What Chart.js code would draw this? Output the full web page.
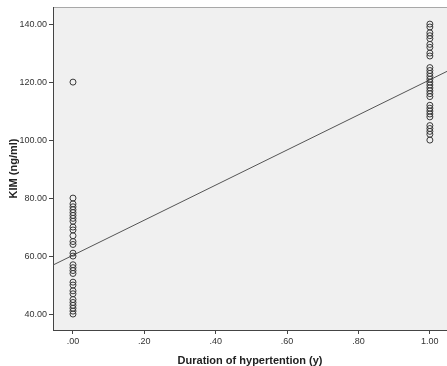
<!DOCTYPE html>
<html>
<head>
<meta charset="utf-8">
<script src="https://cdn.jsdelivr.net/npm/chart.js@4/dist/chart.umd.min.js"></script>
<style>
  html, body { margin: 0; padding: 0; background: #fff; }
  #wrap { width: 447px; height: 366px; }
</style>
</head>
<body>
<div id="wrap"><canvas id="kimChart" width="447" height="366"></canvas></div>
<script>
// KIM values for the two groups (x = 0 and x = 1)
const groupNo = [80, 78, 77, 76, 75, 74, 73, 72, 70, 69, 67, 65, 64, 61, 60, 57, 56, 55, 54,
                 51, 50, 48, 47, 45, 44, 43, 42, 41, 40, 120];
const groupYes = [140, 139, 137, 136, 135, 133, 132, 130, 129, 125, 124, 123, 122, 121, 120,
                  119, 118, 117, 116, 115, 112, 111, 110, 109, 108, 105, 104, 103, 102, 100];

// fit line (ends at the plot edges)
const fitX = [-0.056, 1.048];
const fitY = [56.9, 123.7];

const xTicks = [0, 0.2, 0.4, 0.6, 0.8, 1.0];
const yTicks = [40, 60, 80, 100, 120, 140];

const points = [];
groupNo.forEach(v => points.push({ x: 0, y: v }));
groupYes.forEach(v => points.push({ x: 1, y: v }));

const plotBg = {
    id: "plotBg",
    beforeDraw(chart) {
        const { ctx, chartArea: a } = chart;
        ctx.save();
        ctx.fillStyle = "#f0f0f0";
        ctx.fillRect(a.left, a.top, a.right - a.left, a.bottom - a.top);
        ctx.strokeStyle = "#a8a8a8";
        ctx.lineWidth = 1;
        ctx.beginPath();
        ctx.moveTo(a.left, a.top + 0.5);
        ctx.lineTo(a.right, a.top + 0.5);
        ctx.stroke();
        ctx.restore();
    }
};

const tickFont = { family: "Liberation Sans", size: 9 };
const titleFont = { family: "Liberation Sans", size: 11, weight: "bold", lineHeight: 1 };

new Chart(document.getElementById("kimChart"), {
    type: "scatter",
    data: {
        datasets: [{
            data: points,
            pointStyle: "circle",
            pointRadius: 3,
            pointBorderWidth: 1,
            borderColor: "#3a3a3a",
            backgroundColor: "rgba(0,0,0,0)",
            order: 1
        }, {
            type: "line",
            data: fitX.map((x, i) => ({ x: x, y: fitY[i] })),
            borderColor: "#555",
            borderWidth: 1,
            pointRadius: 0,
            fill: false,
            order: 2
        }]
    },
    plugins: [plotBg],
    options: {
        responsive: false,
        animation: false,
        layout: { autoPadding: false, padding: { top: 7, right: 0, left: 0, bottom: 0 } },
        plugins: { legend: { display: false }, tooltip: { enabled: false } },
        scales: {
            x: {
                type: "linear",
                min: -0.056,
                max: 1.048,
                afterBuildTicks: s => { s.ticks = xTicks.map(v => ({ value: v })); },
                afterFit: s => { s.height = 36; s.paddingLeft = 0; s.paddingRight = 0; },
                ticks: {
                    font: tickFont,
                    color: "#333",
                    padding: 2,
                    maxRotation: 0,
                    callback: v => v.toFixed(2).replace(/^0/, "")
                },
                grid: { drawOnChartArea: false, drawTicks: true, tickLength: 4, color: "#444" },
                border: { color: "#444", width: 1 },
                title: {
                    display: true,
                    text: "Duration of hypertention (y)",
                    font: titleFont,
                    color: "#222",
                    padding: { top: 0, bottom: 0 }
                }
            },
            y: {
                min: 34.5,
                max: 145.9,
                afterBuildTicks: s => { s.ticks = yTicks.map(v => ({ value: v })); },
                afterFit: s => { s.width = 53; s.paddingTop = 0; s.paddingBottom = 0; },
                ticks: {
                    font: tickFont,
                    color: "#333",
                    padding: 2,
                    callback: v => v.toFixed(2)
                },
                grid: { drawOnChartArea: false, drawTicks: true, tickLength: 4, color: "#444" },
                border: { color: "#444", width: 1 },
                title: {
                    display: true,
                    text: "KIM (ng/ml)",
                    font: titleFont,
                    color: "#222",
                    padding: { top: 8, bottom: 0 }
                }
            }
        }
    }
});
</script>
</body>
</html>
